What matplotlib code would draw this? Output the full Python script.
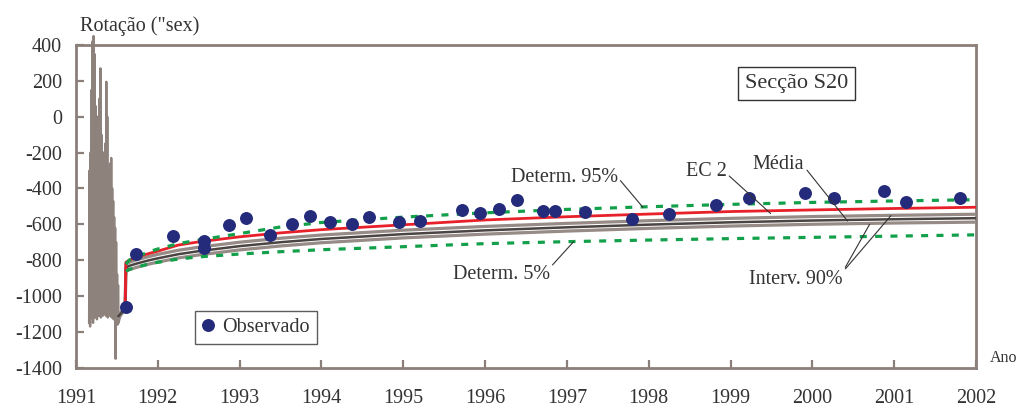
import matplotlib
matplotlib.use("Agg")
import matplotlib.pyplot as plt
from matplotlib.lines import Line2D

nan = float("nan")

plt.rcParams['font.family'] = ['Liberation Serif', 'DejaVu Serif']
plt.rcParams['axes.unicode_minus'] = False

# Rotation record during the construction period (raw instrument signal)
record_years = [
    1991.160, 1991.166, 1991.172, 1991.178, 1991.184, 1991.190, 1991.196, 1991.202,
    1991.208, 1991.214, 1991.220, 1991.226, 1991.232, 1991.238, 1991.244, 1991.250,
    1991.256, 1991.262, 1991.268, 1991.274, 1991.280, 1991.286, 1991.292, 1991.298,
    1991.304, 1991.310, 1991.316, 1991.322, 1991.328, 1991.334, 1991.340, 1991.346,
    1991.352, 1991.358, 1991.364, 1991.370, 1991.376, 1991.382, 1991.388, 1991.394,
    1991.400, 1991.406, 1991.412, 1991.418, 1991.424, 1991.430, 1991.436, 1991.442,
    1991.448, 1991.454, 1991.460, 1991.466, 1991.472, 1991.478, 1991.484, 1991.490,
    1991.496, 1991.502, 1991.508, 1991.514, 1991.520, 1991.530, 1991.545, 1991.560,
]
record_rot = [
    -1150, -300, -1170, -200, -1120, 150, -1100, 420,
    -1150, 450, -1080, 350, -1120, 60, -1100, -150,
    -1130, 0, -1100, -250, -1110, 100, -1090, 270,
    -1120, -100, -1100, -300, -1110, -200, -1100, -350,
    -1090, -150, -1110, 195, -1100, 0, -1120, -280,
    -1090, -300, -1110, -260, -1100, -230, -1120, -400,
    -1100, -470, -1130, -560, -1110, -620, -1350, -700,
    -1150, -880, -1160, -940, -1150, -1130, -1110, -1095,
]

# Observed rotations
obs_years = [
    1991.607, 1991.73, 1992.18, 1992.565, 1992.565, 1992.875, 1993.08, 1993.37,
    1993.645, 1993.86, 1994.105, 1994.37, 1994.58, 1994.95, 1995.20, 1995.72,
    1995.94, 1996.17, 1996.39, 1996.71, 1996.86, 1997.22, 1997.80, 1998.25,
    1998.82, 1999.23, 1999.91, 2000.27, 2000.88, 2001.15, 2001.81,
]
obs_rot = [
    -1063, -764, -664, -692, -731, -603, -564, -660,
    -599, -556, -588, -599, -562, -590, -579, -523,
    -538, -514, -467, -525, -525, -530, -571, -542,
    -494, -454, -426, -451, -417, -473, -451,
]

# Predicted curves
curve_years = [1991.52, 1991.60, 1991.61, 1991.65, 1991.75, 1991.90, 1992.00, 1992.25,
               1992.50, 1993.00, 1993.50, 1994.00, 1995.00, 1996.00, 1997.00, 1998.00,
               1999.00, 2000.00, 2001.00, 2002.00]
ec2 = [nan, -1065, -812, -800, -782, -762, -750, -716,
       -698, -670, -648, -630, -603, -576, -558, -543,
       -529, -520, -512, -505]
det95 = [nan, nan, -822, -800, -780, -752, -738, -708,
         -688, -652, -615, -590, -560, -536, -517, -502,
         -489, -478, -470, -463]
det5 = [nan, nan, -862, -852, -838, -820, -812, -794,
        -782, -766, -753, -742, -725, -708, -697, -688,
        -680, -673, -666, -659]
media = [-1112, -1070, -842, -832, -818, -800, -790, -767,
         -750, -722, -700, -682, -655, -634, -617, -602,
         -589, -579, -572, -566]
interv_hi = [-1105, -1062, -822, -812, -797, -779, -768, -745,
             -728, -700, -678, -660, -633, -612, -595, -580,
             -567, -557, -550, -544]
interv_lo = [-1120, -1078, -862, -853, -839, -821, -811, -788,
             -771, -743, -721, -703, -676, -655, -638, -623,
             -610, -600, -593, -588]

x_ticks = list(range(1991, 2003))
y_ticks = list(range(-1400, 401, 200))

frame_col = '#8b7f7a'
text_col = '#333333'
green = '#12a04a'

fig = plt.figure(figsize=(10.19, 4.07), dpi=100)
ax = fig.add_axes([0.0746, 0.0966, 0.8832, 0.7928])

ax.plot(record_years, record_rot, color='#8e827d', lw=1.7, zorder=2, clip_on=False)

ax.plot(curve_years, interv_hi, color='#968b86', lw=2.3, zorder=3)
ax.plot(curve_years, interv_lo, color='#968b86', lw=2.3, zorder=3)
ax.plot(curve_years, media, color='#4a4442', lw=1.8, zorder=4)
ax.plot(curve_years, ec2, color='#e8202a', lw=2.0, zorder=5)
ax.plot(curve_years, det95, color=green, lw=2.3, ls=(0, (2.2, 2.6)), zorder=6)
ax.plot(curve_years, det5, color=green, lw=2.3, ls=(0, (2.2, 2.6)), zorder=6)

ax.plot(obs_years, obs_rot, 'o', color='#232b7a', ms=8.3, zorder=7, ls='none')

ax.set_xlim(1991, 2002)
ax.set_ylim(-1400, 400)
ax.set_xticks(x_ticks)
ax.set_yticks(y_ticks)
ax.tick_params(axis='both', direction='in', length=6, width=1.6, color=frame_col,
               labelcolor=text_col, labelsize=14.5)
ax.tick_params(axis='x', pad=15)
ax.tick_params(axis='y', pad=10)
for s in ax.spines.values():
    s.set_color(frame_col)
    s.set_linewidth(2.0)

fig.text(80 / 1019, 1 - 26 / 407, 'Rotação ("sex)', fontsize=14.5, color=text_col,
         ha='left', va='center')
fig.text(990 / 1019, 1 - 358 / 407, 'Ano', fontsize=11.5, color=text_col,
         ha='left', va='center')

ax.text(0.8006, 0.8807, 'Secção S20', transform=ax.transAxes, fontsize=16,
        color=text_col, ha='center', va='center',
        bbox=dict(boxstyle='square,pad=0.3', fc='white', ec='#333333', lw=1.0))

handle = Line2D([], [], marker='o', color='#232b7a', ms=8.3, ls='none')
leg = ax.legend([handle], ['Observado'], loc='lower left', bbox_to_anchor=(0.132, 0.073),
                borderaxespad=0, fancybox=False, frameon=True, fontsize=14.5,
                handlelength=0.6, handletextpad=0.4, borderpad=0.35, labelcolor=text_col)
leg.get_frame().set_edgecolor('#333333')
leg.get_frame().set_linewidth(1.0)

line_kw = dict(arrowstyle='-', color='#333333', lw=0.8, shrinkA=0, shrinkB=0)
labels = [
    ('Determ. 95%', (1997.62, -338), (1997.93, -506), (1, 0.5), text_col),
    ('EC 2', (1998.95, -306), (1999.49, -540), (1, 0.4), text_col),
    ('Média', (1999.90, -268), (2000.43, -582), (1, 0.4), text_col),
    ('Determ. 5%', (1996.79, -881), (1997.08, -698), (1, 0.85), text_col),
    ('Interv. 90%', (2000.37, -909), (2000.70, -600), (1, 0.9), text_col),
    # second leader of the same label; its text is left invisible
    ('Interv. 90%', (2000.37, -909), (2000.96, -552), (1, 0.9), 'none'),
]
for txt, tpos, target, rel, col in labels:
    ax.annotate(txt, xy=target, xytext=tpos, textcoords='data', fontsize=14.5,
                color=col, ha='right', va='center', zorder=8,
                arrowprops=dict(relpos=rel, **line_kw))

fig.savefig('out.png', dpi=100)
